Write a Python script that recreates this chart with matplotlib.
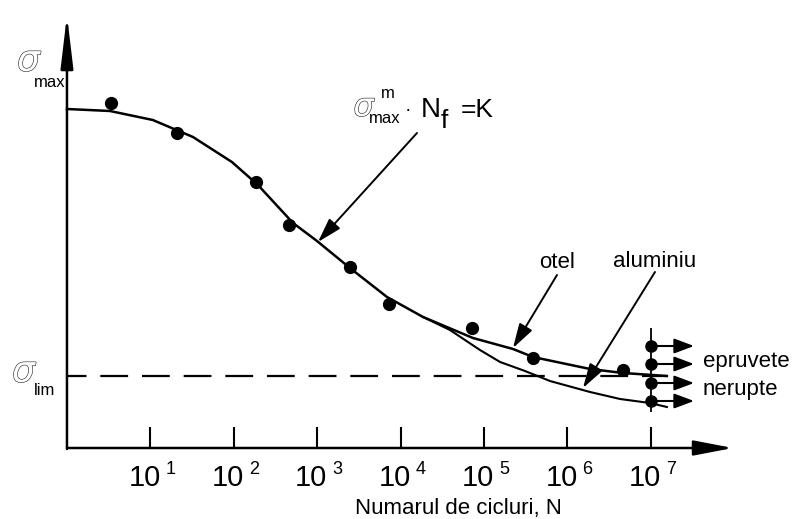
import matplotlib
matplotlib.use('Agg')
import matplotlib.pyplot as plt
import matplotlib.patheffects as pe

plt.rcParams['font.family'] = ['Liberation Sans', 'DejaVu Sans']
plt.rcParams['lines.scale_dashes'] = False

# ---------------- data ----------------
# test results (number of cycles to failure, stress in arbitrary units)
test_N = [3.37, 20.8, 184.5, 459, 2470, 7260, 71800, 387000, 4.65e6]
test_sigma = [34.5, 31.5, 26.6, 22.3, 18.1, 14.4, 12.0, 9.0, 7.8]

# run-out specimens (not broken) at 10^7 cycles
runout_N = [1e7, 1e7, 1e7, 1e7]
runout_sigma = [10.2, 8.4, 6.5, 4.7]

# fitted curve for steel ("otel")
steel_N = [1, 3.28, 10.7, 32.4, 95, 195, 513, 995, 2470, 6870, 18600,
           73800, 223000, 387000, 1.87e6, 4.65e6, 1.56e7]
steel_sigma = [33.9, 33.7, 32.8, 31.1, 28.6, 26.3, 22.5, 20.7, 18.0, 15.1, 13.1,
               11.0, 9.9, 9.1, 7.9, 7.5, 7.2]

# fitted curve for aluminium ("aluminiu")
alu_N = [18600, 39100, 89500, 156000, 310000, 618000, 1.87e6, 4.28e6, 9.77e6, 1.56e7]
alu_sigma = [13.1, 11.8, 9.8, 8.6, 7.7, 6.7, 5.6, 4.9, 4.5, 4.1]

# endurance limit
sigma_lim = 7.2
sigma_lim_end_N = 1.56e7

# axis ticks (powers of ten)
tick_exponents = [1, 2, 3, 4, 5, 6, 7]

x_label = "Numarul de cicluri, N"

# ---------------- figure ----------------
fig = plt.figure(figsize=(7.95, 5.19), dpi=100)
ax = fig.add_axes([0, 0, 1, 1])
ax.set_xscale('log')
ax.set_xlim(10 ** -0.803, 10 ** 8.729)
ax.set_ylim(-7.1, 44.8)
ax.axis('off')


def X(px):
    # layout helper: figure pixel column -> data x
    return 10 ** ((px - 67) / 83.4)


def Y(py):
    # layout helper: figure pixel row -> data y
    return (448 - py) / 10.0


K = 'black'

# axes with arrows
ax.annotate('', xy=(X(733), 0), xytext=(1, 0),
            arrowprops=dict(arrowstyle='-|>,head_length=24,head_width=4.6',
                            mutation_scale=1, lw=1.8, color=K,
                            shrinkA=0, shrinkB=0))
ax.annotate('', xy=(1, Y(15)), xytext=(1, Y(449)),
            arrowprops=dict(arrowstyle='-|>,head_length=32,head_width=3.8',
                            mutation_scale=1, lw=1.8, color=K,
                            shrinkA=0, shrinkB=0))

# ticks
tick_pos = [10.0 ** e for e in tick_exponents]
ax.vlines(tick_pos, 0, Y(427), colors=K, lw=1.5)
for e, t in zip(tick_exponents, tick_pos):
    ax.annotate('10', xy=(t, Y(486)), xytext=(-6, 0), textcoords='offset pixels',
                ha='center', va='baseline', fontsize=21, color=K)
    ax.annotate(str(e), xy=(t, Y(474)), xytext=(15, 0), textcoords='offset pixels',
                ha='left', va='baseline', fontsize=13, color=K)

ax.text(X(458), Y(514), x_label, ha='center', va='baseline', fontsize=16, color=K)

# endurance limit dashed line
ax.plot([1, sigma_lim_end_N], [sigma_lim, sigma_lim], color=K, lw=1.6,
        linestyle=(6, (20, 10)))

# curves
ax.plot(steel_N, steel_sigma, color=K, lw=1.8, solid_joinstyle='round')
ax.plot(alu_N, alu_sigma, color=K, lw=1.5, solid_joinstyle='round')

# test points
ax.plot(test_N, test_sigma, 'o', color=K, ms=8.5)

# run-outs
ax.vlines(1e7, Y(412), Y(328), colors=K, lw=1.3)
for s in runout_sigma:
    ax.annotate('', xy=(X(694), s), xytext=(1e7, s),
                arrowprops=dict(arrowstyle='-|>,head_length=12,head_width=4.5',
                                mutation_scale=1, lw=1.5, color=K,
                                shrinkA=0, shrinkB=0))
ax.plot(runout_N, runout_sigma, 'o', color=K, ms=8)
ax.text(X(703), Y(367), 'epruvete', ha='left', va='baseline', fontsize=16, color=K)
ax.text(X(703), Y(395), 'nerupte', ha='left', va='baseline', fontsize=16, color=K)

# hollow sigma style
hollow = [pe.Stroke(linewidth=0.9, foreground='#333333'), pe.Normal()]


def sigma(px, py, size):
    ax.text(X(px), Y(py), r'$\sigma$', ha='center', va='baseline', fontsize=size,
            color='white', path_effects=hollow)


# y axis labels
sigma(30, 71, 26)
ax.text(X(34), Y(87), 'max', ha='left', va='baseline', fontsize=12, color=K)
sigma(25, 382, 26)
ax.text(X(34), Y(395), 'lim', ha='left', va='baseline', fontsize=12, color=K)

# Basquin formula
sigma(365, 116, 23)
ax.text(X(381), Y(98), 'm', ha='left', va='baseline', fontsize=12, color=K)
ax.text(X(369), Y(123), 'max', ha='left', va='baseline', fontsize=12, color=K)
ax.text(X(408), Y(115), '·', ha='center', va='baseline', fontsize=14, color=K)
ax.text(X(421), Y(117), 'N', ha='left', va='baseline', fontsize=20, color=K)
ax.text(X(441), Y(128), 'f', ha='left', va='baseline', fontsize=19, color=K)
ax.text(X(461), Y(117), '=K', ha='left', va='baseline', fontsize=19, color=K)

# annotation arrows
arrow_kw = dict(arrowstyle='-|>,head_length=15,head_width=4.5', mutation_scale=1,
                lw=1.4, color=K, shrinkA=0, shrinkB=0)
ax.annotate('', xy=(X(318), Y(242)), xytext=(X(417), Y(133)), arrowprops=arrow_kw)
ax.annotate('', xy=(X(513), Y(348)), xytext=(X(557), Y(275)), arrowprops=arrow_kw)
ax.annotate('', xy=(X(583), Y(388)), xytext=(X(655), Y(272)), arrowprops=arrow_kw)
ax.text(X(557), Y(268), 'otel', ha='center', va='baseline', fontsize=16, color=K)
ax.text(X(655), Y(267), 'aluminiu', ha='center', va='baseline', fontsize=16, color=K)

fig.savefig('out.png', dpi=100)
